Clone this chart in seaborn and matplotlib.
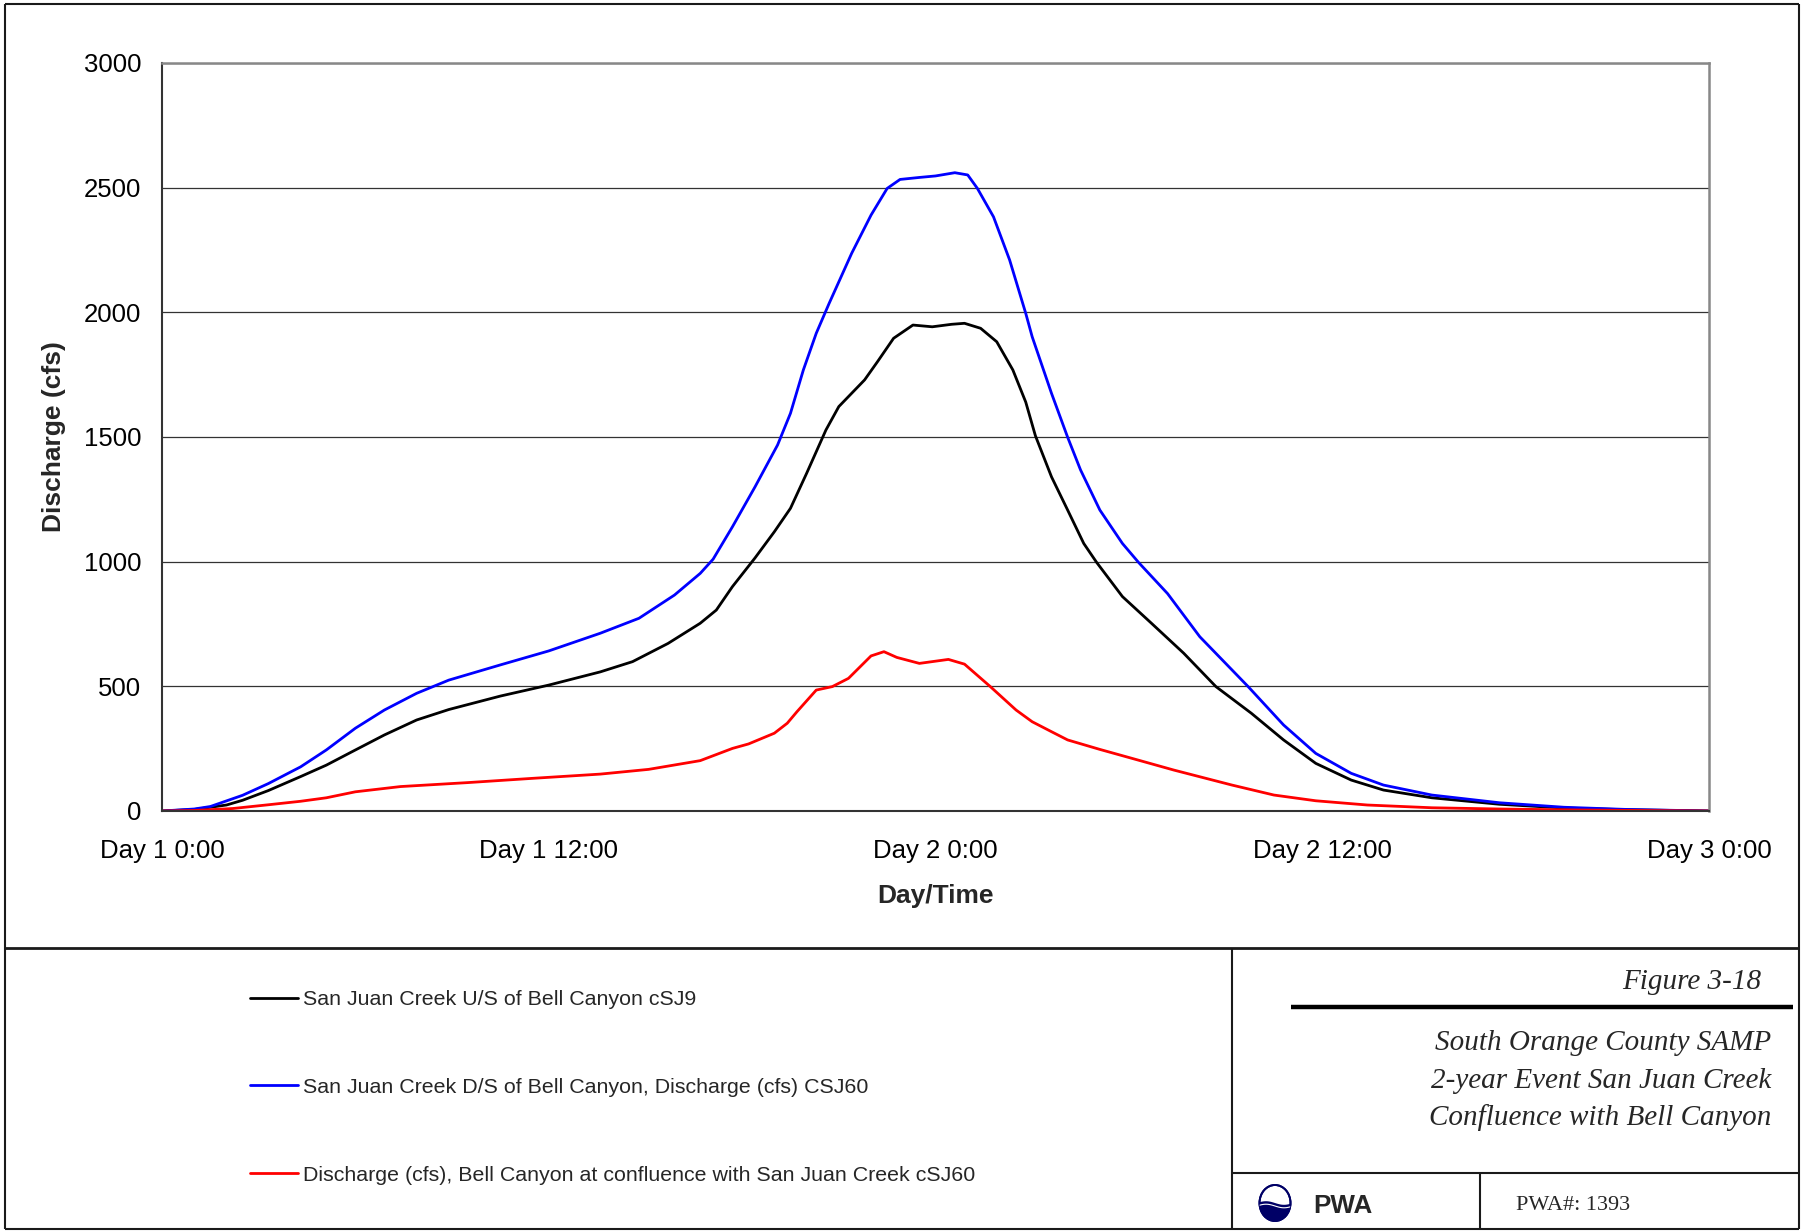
import matplotlib
matplotlib.use('Agg')
import matplotlib.pyplot as plt
from matplotlib.lines import Line2D
from matplotlib.patches import Ellipse, Polygon
import numpy as np
import pandas as pd
import seaborn as sns

## DATA  (hours after Day 1 0:00, discharge in cfs)
us_hours = [0.0, 1.0, 2.0, 2.5, 3.3, 4.3, 5.1, 5.9, 6.9, 7.9, 8.9, 10.5, 12.0, 13.6, 14.6,
            15.7, 16.7, 17.2, 17.7, 18.4, 19.0, 19.5, 20.0, 20.6, 21.0, 21.8, 22.2, 22.7,
            23.3, 23.9, 24.5, 24.9, 25.4, 25.9, 26.4, 26.8, 27.1, 27.6, 28.1, 28.6, 29.0,
            29.8, 30.7, 31.7, 32.7, 33.8, 34.8, 35.8, 36.9, 37.9, 39.4, 41.5, 43.5, 45.5, 48.0]
us_cfs = [0, 6, 24, 43, 82, 138, 184, 238, 305, 365, 407, 461, 505, 558, 599,
          672, 753, 806, 900, 1015, 1120, 1214, 1354, 1528, 1622, 1729, 1802, 1896,
          1949, 1942, 1952, 1956, 1936, 1882, 1769, 1640, 1505, 1340, 1207, 1073, 997,
          860, 753, 633, 499, 392, 285, 191, 124, 84, 53, 27, 12, 5, 0]

ds_hours = [0.0, 1.0, 1.5, 2.5, 3.3, 4.0, 4.3, 5.1, 6.0, 6.9, 7.9, 8.9, 10.5, 12.0, 13.6,
            14.8, 15.9, 16.7, 17.1, 17.7, 18.4, 19.1, 19.5, 19.9, 20.3, 20.7, 21.4, 22.0,
            22.5, 22.9, 23.5, 24.0, 24.6, 25.0, 25.3, 25.8, 26.3, 26.8, 27.0, 27.6, 28.1,
            28.5, 29.1, 29.8, 30.3, 31.2, 32.2, 33.7, 34.8, 35.8, 36.9, 37.9, 39.4, 41.5,
            43.5, 45.5, 48.0]
ds_cfs = [0, 8, 18, 63, 110, 157, 177, 245, 332, 405, 472, 525, 586, 642, 713,
          773, 866, 953, 1010, 1140, 1300, 1468, 1595, 1769, 1916, 2036, 2237, 2390,
          2497, 2533, 2541, 2547, 2560, 2551, 2497, 2383, 2210, 1996, 1902, 1675, 1499,
          1368, 1207, 1073, 997, 872, 699, 499, 345, 231, 151, 104, 64, 33,
          15, 6, 0]

bell_hours = [0.0, 1.0, 2.2, 3.3, 4.3, 5.1, 6.0, 7.4, 9.5, 11.5, 13.6, 15.1, 16.7, 17.7,
              18.2, 19.0, 19.4, 19.7, 20.3, 20.8, 21.3, 22.0, 22.4, 22.8, 23.5, 24.4, 24.9,
              25.7, 26.5, 27.0, 27.6, 28.1, 29.1, 30.1, 31.4, 33.2, 34.5, 35.8, 37.4, 39.4,
              41.5, 44.0, 48.0]
bell_cfs = [0, 2, 10, 25, 39, 53, 77, 98, 114, 131, 148, 167, 202, 251,
            269, 312, 352, 398, 485, 499, 532, 622, 639, 616, 592, 608, 589,
            499, 405, 358, 318, 285, 247, 211, 164, 104, 64, 41, 24, 13,
            8, 4, 0]

series_names = ['San Juan Creek U/S of Bell Canyon cSJ9',
                'San Juan Creek D/S of Bell Canyon, Discharge (cfs) CSJ60',
                'Discharge (cfs), Bell Canyon at confluence with San Juan Creek cSJ60']
series_colors = ['#000000', '#0000ff', '#ff0000']

x_ticks = [0, 12, 24, 36, 48]
x_minor = [6, 18, 30, 42]
x_labels = ['Day 1 0:00', 'Day 1 12:00', 'Day 2 0:00', 'Day 2 12:00', 'Day 3 0:00']
y_ticks = [0, 500, 1000, 1500, 2000, 2500, 3000]

title_lines = ['South Orange County SAMP', '2-year Event San Juan Creek', 'Confluence with Bell Canyon']

## FIGURE
sns.set_style('white')
plt.rcParams['font.family'] = ['Liberation Sans', 'DejaVu Sans']

W, H = 1801, 1231
fig = plt.figure(figsize=(W / 100, H / 100), dpi=100)


def fx(x):
    return x / W


def fy(y):
    return 1 - y / H


def seg(x0, y0, x1, y1, lw=1.5, color='#1a1a1a'):
    fig.add_artist(Line2D([fx(x0), fx(x1)], [fy(y0), fy(y1)], color=color, lw=lw,
                          transform=fig.transFigure, solid_capstyle='butt'))


ax = fig.add_axes([fx(162), fy(811), (1709 - 162) / W, (811 - 63) / H])

frames = [(us_hours, us_cfs), (ds_hours, ds_cfs), (bell_hours, bell_cfs)]
for (hrs, cfs), name, col in zip(frames, series_names, series_colors):
    d = pd.DataFrame({'hour': hrs, 'cfs': cfs})
    sns.lineplot(data=d, x='hour', y='cfs', color=col, lw=2.0, label=name,
                 legend=False, ax=ax, errorbar=None)

ax.set_xlim(0, 48)
ax.set_ylim(0, 3000)
ax.set_yticks(y_ticks)
ax.set_xticks(x_ticks)
ax.set_xticks(x_minor, minor=True)
ax.set_xticklabels(x_labels)
ax.yaxis.grid(True, color='#333333', lw=0.9)
ax.xaxis.grid(False)
ax.set_axisbelow(True)
ax.tick_params(axis='both', which='both', direction='out', length=6, width=1,
               color='#333333', labelsize=18.5, labelcolor='black')
ax.tick_params(axis='y', pad=9)
ax.tick_params(axis='x', pad=14)

for side in ['left', 'bottom']:
    ax.spines[side].set_color('#333333')
    ax.spines[side].set_linewidth(1.5)
for side in ['top', 'right']:
    ax.spines[side].set_color('#888888')
    ax.spines[side].set_linewidth(1.8)

ax.set_xlabel('Day/Time', fontsize=19, fontweight='bold', va='center')
ax.xaxis.set_label_coords(0.5, (811 - 896) / (811 - 63))
ax.set_ylabel('Discharge (cfs)', fontsize=19, fontweight='bold', va='center')
ax.yaxis.set_label_coords((54 - 162) / (1709 - 162), 0.5)

## FRAME AND TITLE BLOCK
seg(5, 4, 1799, 4)
seg(5, 1229, 1799, 1229)
seg(5, 4, 5, 1229)
seg(1799, 4, 1799, 1229)
seg(5, 948, 1799, 948, lw=2)
seg(1232, 948, 1232, 1229)
seg(1232, 1173, 1799, 1173)
seg(1480, 1173, 1480, 1229)
seg(1291, 1007, 1793, 1007, lw=3.2, color='black')

handles, labels = ax.get_legend_handles_labels()
fig.legend(handles, labels, loc='upper left', bbox_to_anchor=(fx(250), fy(990)),
           frameon=False, fontsize=15.4, handlelength=2.25, handletextpad=0.25,
           labelspacing=3.22, borderpad=0, borderaxespad=0)

serif = ['Liberation Serif', 'DejaVu Serif']
fig.text(fx(1761), fy(982), 'Figure 3-18', family=serif, style='italic', fontsize=21,
         ha='right', va='center')
for i, line in enumerate(title_lines):
    fig.text(fx(1771), fy(1043 + 37.5 * i), line, family=serif, style='italic',
             fontsize=21, ha='right', va='center')

fig.text(fx(1313), fy(1206), 'PWA', fontsize=18.7, fontweight='bold', ha='left', va='center')
fig.text(fx(1516), fy(1205), 'PWA#: 1393', family=serif, fontsize=16, ha='left', va='center')

# logo: circle with wave
lax = fig.add_axes([fx(1255), fy(1223), 40 / W, 40 / H])
lax.set_xlim(0, 40)
lax.set_ylim(0, 40)
lax.axis('off')
navy = '#000066'
rim = Ellipse((20, 20), 31, 36, facecolor='white', edgecolor=navy, lw=1.4)
lax.add_patch(rim)
wx = np.linspace(2, 38, 40)
wy = 20 + 1.8 * np.sin((wx - 2) / 36 * 2 * np.pi)
water = Polygon(np.column_stack([np.r_[wx, 38, 2], np.r_[wy, 0, 0]]), facecolor=navy,
                edgecolor='none')
lax.add_patch(water)
water.set_clip_path(rim)
crest = Line2D(wx, wy - 3, color='white', lw=0.8)
lax.add_line(crest)
crest.set_clip_path(rim)
lax.add_patch(Ellipse((20, 20), 31, 36, facecolor='none', edgecolor=navy, lw=1.4))

fig.savefig('out.png', dpi=100)
